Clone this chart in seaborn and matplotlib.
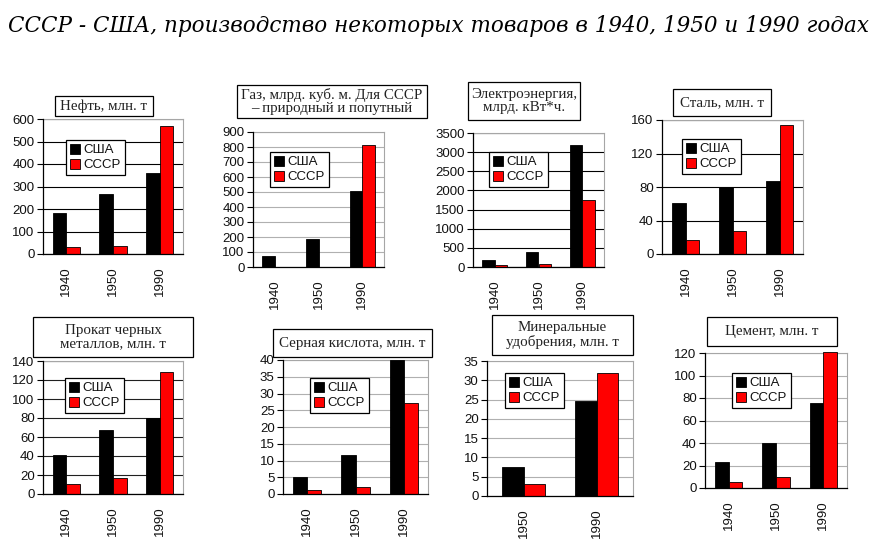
import numpy as np
import pandas as pd
import matplotlib
matplotlib.use("Agg")
import matplotlib.pyplot as plt
from matplotlib.patches import Rectangle, Patch
import seaborn as sns

# ---------------- data ----------------
years_3 = ["1940", "1950", "1990"]
years_2 = ["1950", "1990"]
countries = ["США", "СССР"]

oil_usa = [182, 265, 362]
oil_ussr = [31, 37, 568]
gas_usa = [72, 184, 504]
gas_ussr = [np.nan, np.nan, 814]
elec_usa = [185, 390, 3195]
elec_ussr = [50, 88, 1755]
steel_usa = [61, 80, 87]
steel_ussr = [17, 27, 154]
rolled_usa = [41, 67, 80]
rolled_ussr = [11, 17, 128]
acid_usa = [5.1, 11.7, 40]
acid_ussr = [1.3, 2.1, 27.3]
fert_usa = [7.5, 24.6]
fert_ussr = [3.2, 31.8]
cement_usa = [23, 40, 76]
cement_ussr = [5, 10, 121]

titles = [
    "Нефть, млн. т",
    "Газ, млрд. куб. м. Для СССР\n– природный и попутный",
    "Электроэнергия,\nмлрд. кВт*ч.",
    "Сталь, млн. т",
    "Прокат черных\nметаллов, млн. т",
    "Серная кислота, млн. т",
    "Минеральные\nудобрения, млн. т",
    "Цемент, млн. т",
]
main_title = "СССР - США, производство некоторых товаров в 1940, 1950 и 1990 годах"

palette = {"США": "#000000", "СССР": "#ff0000"}

# ---------------- layout (pixels) ----------------
W, H = 873, 540
sns.set_theme(style="white")
plt.rcParams["font.family"] = ["Liberation Sans", "DejaVu Sans"]

fig = plt.figure(figsize=(W / 100, H / 100), dpi=100)
fig.patch.set_facecolor("white")

panels = [
    # series, years, axes rect (l,t,r,b), title box, legend (l,t), ylim, step, grid color
    (oil_usa, oil_ussr, years_3, (43, 119, 183, 254), (55, 96, 153, 116), (66, 140), 600, 100, "black"),
    (gas_usa, gas_ussr, years_3, (253, 132, 384, 267), (237, 85, 427, 118), (270, 152), 900, 100, "#b0b0b0"),
    (elec_usa, elec_ussr, years_3, (473, 133, 604, 267), (468, 82, 580, 120), (489, 152), 3500, 500, "black"),
    (steel_usa, steel_ussr, years_3, (662, 120, 803, 254), (673, 89, 771, 116), (682, 139), 160, 40, "black"),
    (rolled_usa, rolled_ussr, years_3, (43, 361, 183, 494), (33, 317, 193, 357), (65, 378), 140, 20, "#202020"),
    (acid_usa, acid_ussr, years_3, (283, 360, 428, 494), (273, 329, 432, 357), (310, 378), 40, 5, "#b0b0b0"),
    (fert_usa, fert_ussr, years_2, (487, 361, 633, 496), (492, 315, 633, 355), (505, 373), 35, 5, "#b0b0b0"),
    (cement_usa, cement_ussr, years_3, (705, 353, 847, 488), (707, 317, 837, 346), (732, 373), 120, 20, "#b0b0b0"),
]

def fx(x):
    return x / W

def fy(y):
    return 1 - y / H

for (usa, ussr, yrs, arect, trect, lpos, ymax, step, gcol), ttl in zip(panels, titles):
    l, t, r, b = arect
    ax = fig.add_axes([fx(l), fy(b), (r - l) / W, (b - t) / H])
    df = pd.DataFrame({
        "year": yrs * 2,
        "country": [countries[0]] * len(yrs) + [countries[1]] * len(yrs),
        "value": list(usa) + list(ussr),
    })
    sns.barplot(data=df, x="year", y="value", hue="country", hue_order=countries,
                order=yrs, palette=palette, saturation=1, width=0.58, edgecolor="black",
                linewidth=0.6, errorbar=None, legend=False, ax=ax, zorder=3)
    for p in ax.patches:
        p.set_clip_on(False)
    n = len(yrs)
    ax.set_xlim(-0.5, n - 0.5)
    ax.set_ylim(0, ymax)
    ax.set_yticks(np.arange(0, ymax + step / 2, step))
    ax.yaxis.grid(True, color=gcol, linewidth=0.8, zorder=0)
    ax.set_axisbelow(True)
    ax.set_xlabel("")
    ax.set_ylabel("")
    ax.set_xticks(range(n))
    ax.set_xticklabels(yrs, rotation=90)
    ax.set_xticks(np.arange(-0.5, n, 1.0), minor=True)
    ax.tick_params(axis="x", which="major", length=0, pad=9, labelsize=9.5, labelcolor="#111111")
    ax.tick_params(axis="x", which="minor", length=5, width=0.8, color="black", direction="out")
    ax.tick_params(axis="y", which="major", length=4, width=0.8, color="black", direction="out",
                   left=True, pad=2, labelsize=9.5, labelcolor="#111111")
    ax.set_facecolor("white")
    for s in ["left", "bottom"]:
        ax.spines[s].set_color("black")
        ax.spines[s].set_linewidth(0.9)
        ax.spines[s].set_zorder(4)
    for s in ["top", "right"]:
        ax.spines[s].set_color("#a6a6a6")
        ax.spines[s].set_linewidth(0.8)

    # legend
    handles = [Patch(facecolor=palette[c], edgecolor="black", linewidth=0.6) for c in countries]
    leg = ax.legend(handles, countries, loc="upper left",
                    bbox_to_anchor=(fx(lpos[0]), fy(lpos[1])), bbox_transform=fig.transFigure,
                    frameon=True, fancybox=False, edgecolor="black", framealpha=1,
                    fontsize=9.5, handlelength=0.75, handleheight=0.75, handletextpad=0.3,
                    borderpad=0.3, labelspacing=0.2, borderaxespad=0)
    leg.get_frame().set_linewidth(0.9)
    leg.set_zorder(6)
    for txt in leg.get_texts():
        txt.set_color("#111111")

    # title box
    tl, tt, tr, tb = trect
    fig.add_artist(Rectangle((fx(tl), fy(tb)), (tr - tl) / W, (tb - tt) / H,
                             transform=fig.transFigure, facecolor="white",
                             edgecolor="black", linewidth=0.9, zorder=5))
    fig.text(fx((tl + tr) / 2), fy((tt + tb) / 2), ttl, ha="center", va="center",
             family=["Liberation Serif", "DejaVu Serif"], fontsize=10.8, color="#222222",
             linespacing=1.05, zorder=6)

fig.text(fx(8), fy(32), main_title, ha="left", va="baseline",
         family=["DejaVu Serif"], fontstyle="italic", fontsize=15.5, color="black")

fig.savefig("out.png", dpi=100, facecolor="white")
